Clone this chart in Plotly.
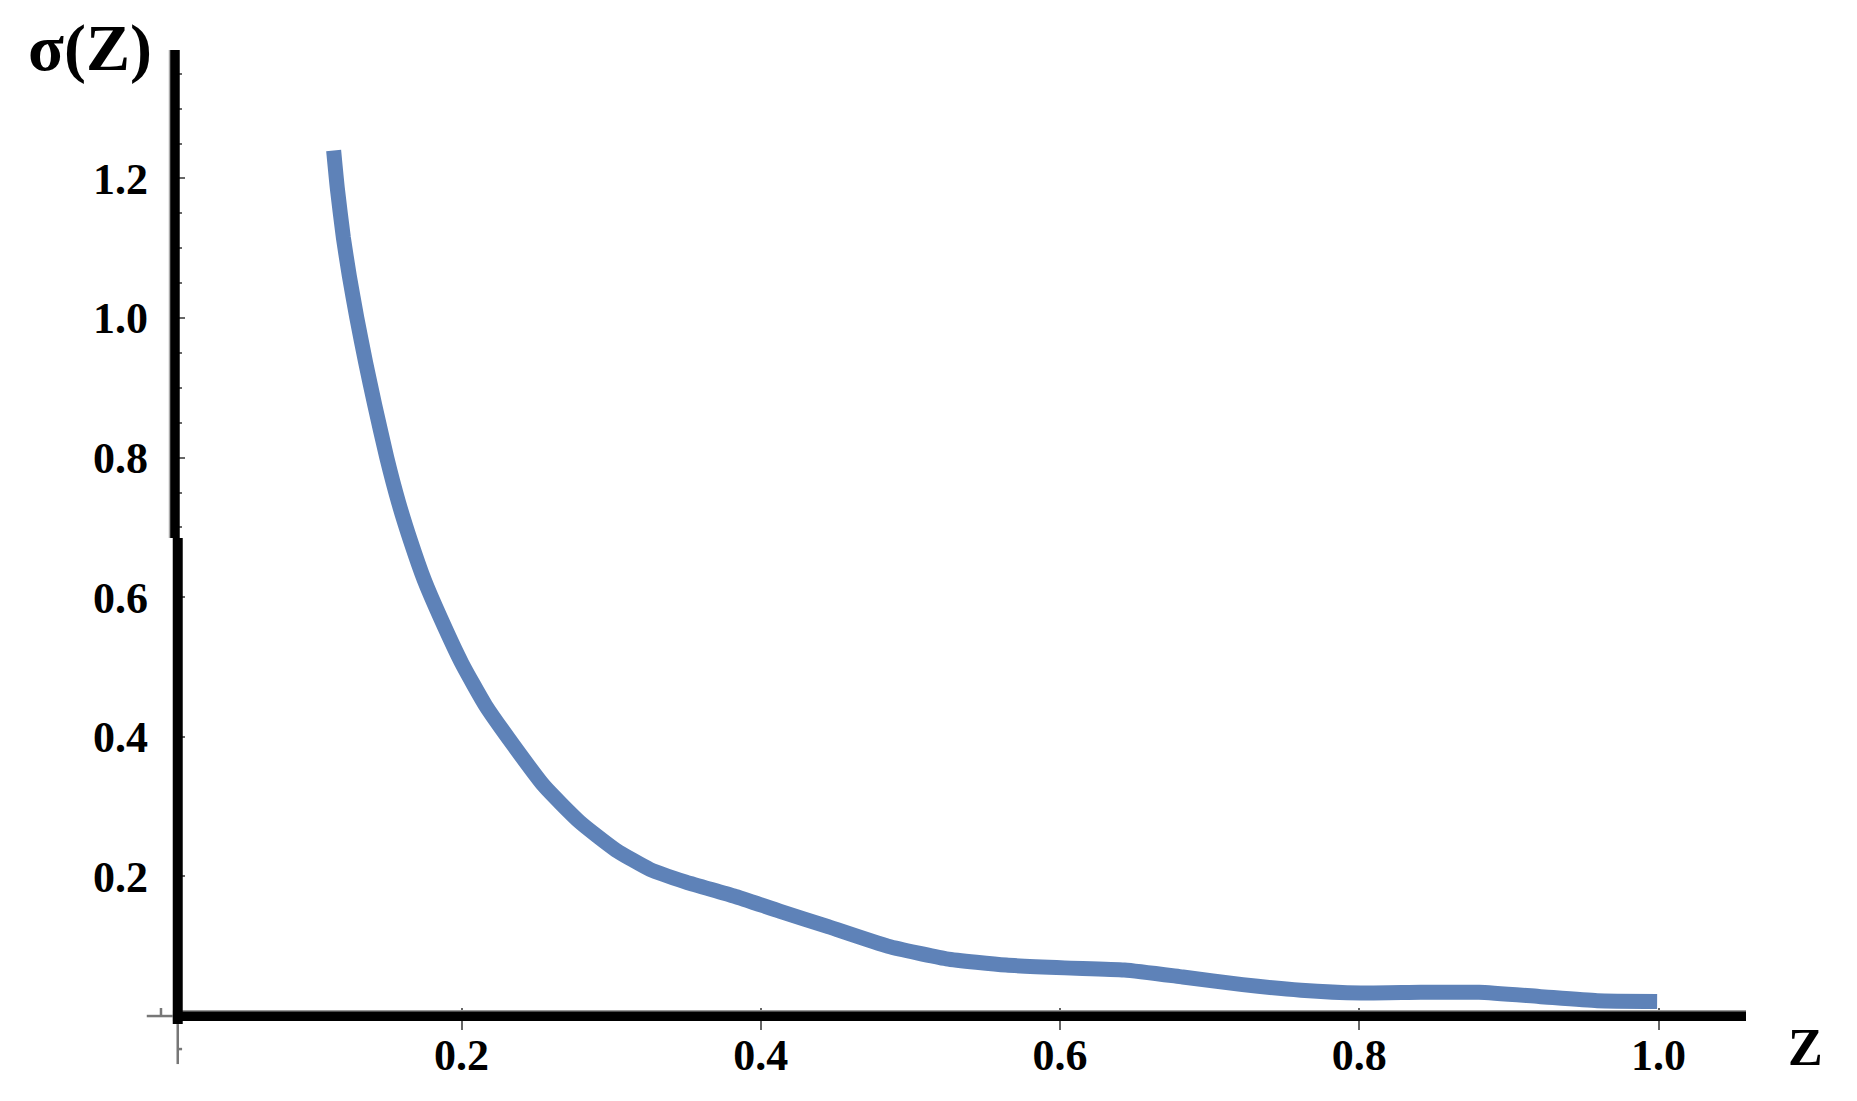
import numpy as np
import plotly.graph_objects as go

# ---- data ----
z_vals = [0.1145, 0.117, 0.121, 0.125, 0.130, 0.136, 0.142, 0.150, 0.158, 0.166,
          0.175, 0.186, 0.200, 0.216, 0.235, 0.255, 0.279, 0.303, 0.326, 0.350,
          0.382, 0.413, 0.445, 0.485, 0.524, 0.564, 0.603, 0.643, 0.682, 0.722,
          0.761, 0.801, 0.841, 0.880, 0.920, 0.959, 0.999]
sigma_vals = [1.240, 1.185, 1.115, 1.060, 1.000, 0.935, 0.875, 0.800, 0.735, 0.680,
              0.625, 0.570, 0.506, 0.445, 0.387, 0.330, 0.278, 0.238, 0.210, 0.192,
              0.172, 0.150, 0.128, 0.100, 0.082, 0.073, 0.069, 0.066, 0.056, 0.045,
              0.037, 0.033, 0.034, 0.034, 0.028, 0.022, 0.021]

x_tickvals = [0.2, 0.4, 0.6, 0.8, 1.0]
x_ticktext = ["0.2", "0.4", "0.6", "0.8", "1.0"]
y_tickvals = [0.2, 0.4, 0.6, 0.8, 1.0, 1.2]
y_ticktext = ["0.2", "0.4", "0.6", "0.8", "1.0", "1.2"]
y_minor_vals = [v for v in np.round(np.arange(0.05, 1.36, 0.05), 2).tolist()
                if round(v / 0.2, 6) % 1 != 0]

X_RANGE = [0.0078, 1.0584]
Y_RANGE = [-0.02, 1.384]
X_CROSS_LOW = 0.0103   # vertical axis, lower piece
X_CROSS_UP = 0.0083    # vertical axis, upper piece (slightly shifted)
Y_BREAK = 0.685

LINE_COLOR = "#5E82B8"
FONT = "Liberation Serif"


def px(v):
    return (v - X_RANGE[0]) / (X_RANGE[1] - X_RANGE[0])


def py(v):
    return (v - Y_RANGE[0]) / (Y_RANGE[1] - Y_RANGE[0])


fig = go.Figure()
fig.add_trace(go.Scatter(
    x=z_vals, y=sigma_vals, mode="lines",
    line=dict(color=LINE_COLOR, width=15, shape="spline", smoothing=0.5),
    hoverinfo="skip", showlegend=False,
))

grey = "#777777"
P = dict(xref="paper", yref="paper", type="line")
shapes = [
    # horizontal axis
    dict(**P, x0=px(0.0071), x1=px(X_RANGE[1]), y0=py(0), y1=py(0),
         line=dict(color="black", width=10)),
    dict(**P, x0=px(0.0071), x1=px(X_RANGE[1]), y0=py(0.0075), y1=py(0.0075),
         line=dict(color="#999999", width=1.5)),
    # vertical axis, lower piece
    dict(**P, x0=px(X_CROSS_LOW), x1=px(X_CROSS_LOW), y0=py(-0.0115), y1=py(Y_BREAK),
         line=dict(color="black", width=10)),
    # vertical axis, upper piece
    dict(**P, x0=px(X_CROSS_UP), x1=px(X_CROSS_UP), y0=py(Y_BREAK), y1=py(Y_RANGE[1]),
         line=dict(color="black", width=10)),
    dict(**P, x0=px(0.0048), x1=px(0.0048), y0=py(Y_BREAK), y1=py(Y_RANGE[1]),
         line=dict(color="#aaaaaa", width=1.5)),
    # thin grey stubs of the original axes at the origin
    dict(**P, x0=px(-0.0104), x1=px(0.0071), y0=py(0), y1=py(0),
         line=dict(color=grey, width=2.5)),
    dict(**P, x0=px(-0.0009), x1=px(-0.0009), y0=py(0), y1=py(0.0115),
         line=dict(color=grey, width=2.5)),
    dict(**P, x0=px(X_CROSS_LOW), x1=px(X_CROSS_LOW), y0=py(-0.0115), y1=py(-0.0688),
         line=dict(color=grey, width=2.5)),
    dict(**P, x0=px(X_CROSS_LOW), x1=px(0.0132), y0=py(-0.0473), y1=py(-0.0473),
         line=dict(color=grey, width=2.5)),
]

tick_font = dict(family=FONT, size=44, color="black", weight="bold")

fig.update_layout(
    width=1849, height=1093,
    margin=dict(l=166, r=111, t=42, b=71),
    paper_bgcolor="white", plot_bgcolor="white",
    shapes=shapes,
    xaxis=dict(range=X_RANGE, showgrid=False, zeroline=False, showline=False,
               tickvals=x_tickvals, ticktext=x_ticktext,
               ticks="inside", ticklen=22, tickwidth=2, tickcolor="#666666",
               tickfont=tick_font, ticklabelstandoff=-5),
    yaxis=dict(range=Y_RANGE, showgrid=False, zeroline=False, showline=False,
               tickvals=y_tickvals, ticktext=y_ticktext,
               ticks="inside", ticklen=11, tickwidth=2, tickcolor="#666666",
               minor=dict(tickvals=y_minor_vals, ticks="inside", ticklen=8,
                          tickwidth=2, tickcolor="#666666"),
               tickfont=tick_font, ticklabelstandoff=25),
    annotations=[
        dict(text="σ(Z)", xref="x", yref="paper", x=X_CROSS_UP, y=1.0,
             xanchor="right", yanchor="middle", xshift=-21, yshift=2,
             showarrow=False,
             font=dict(family=FONT, size=66, color="black", weight="bold")),
        dict(text="Z", xref="paper", yref="y", x=1.0, y=0,
             xanchor="center", yanchor="middle", xshift=59, yshift=-31,
             showarrow=False,
             font=dict(family=FONT, size=52, color="black", weight="bold")),
    ],
)

fig.write_html("out.html")
